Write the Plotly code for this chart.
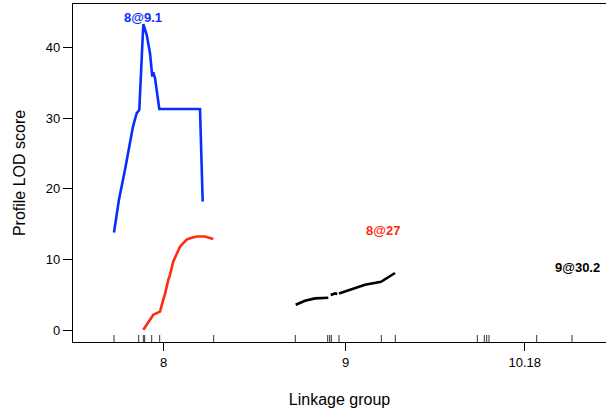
import plotly.graph_objects as go

# Positions along the concatenated linkage-group axis (arbitrary cM-like units)
lg_tick_pos = [90.7, 272.7, 451.7]
lg_tick_labels = ["8", "9", "10.18"]

# Marker positions (rug)
markers = [41, 65.7, 70.3, 71.7, 78.7, 86.7, 140.7,
           222.3, 254.7, 256.7, 258.3, 266, 308.3, 322.3,
           404.3, 411.3, 413.7, 416, 463.7, 499]

# Profile LOD curves
blue_x = [41, 46, 52, 57, 59.7, 61.3, 63.7, 66.3, 70.3, 73.7, 77, 79.3, 80.3, 82, 83.7, 86.3, 127, 129.7]
blue_y = [13.8, 18.5, 22.7, 26.9, 28.6, 29.5, 30.7, 31.2, 43.3, 41.8, 39.2, 35.9, 36.5, 35.7, 33.8, 31.3, 31.3, 18.2]

red_x = [70.3, 73.7, 77, 80.3, 85.3, 87, 90.3, 92, 95.3, 97, 100.3, 103.7, 107, 110.3, 113.7, 117, 123.7, 132, 140.3]
red_y = [0.04, 0.75, 1.46, 2.17, 2.5, 2.6, 4.3, 5.1, 7.1, 7.8, 9.7, 10.9, 11.8, 12.3, 12.8, 13.0, 13.25, 13.25, 12.9]

black_x = [222.7, 232, 242, 255.3, None, 257.7, 262, 264.3, None, 266, 278.7, 292, 308, 313.7, 322]
black_y = [3.58, 4.15, 4.48, 4.57, None, 4.95, 5.18, 5.09, None, 5.18, 5.8, 6.4, 6.83, 7.36, 8.07]

peak_labels = ["8@9.1", "8@27", "9@30.2"]
peak_x = [70, 310, 504]
peak_y = [44.3, 14.05, 8.8]

BLUE = "#0a2dff"
RED = "#ff2a10"
BLACK = "#000000"

Y_MIN, Y_MAX = -1.70, 46.17

fig = go.Figure()

for xs, ys, c in [(blue_x, blue_y, BLUE), (red_x, red_y, RED), (black_x, black_y, BLACK)]:
    fig.add_trace(go.Scatter(x=xs, y=ys, mode="lines", line=dict(color=c, width=2.6),
                             connectgaps=False, showlegend=False, hoverinfo="skip"))

rx, ry = [], []
for m in markers:
    rx += [m, m, None]
    ry += [Y_MIN, Y_MIN + 0.99, None]
fig.add_trace(go.Scatter(x=rx, y=ry, mode="lines", line=dict(color="#333333", width=1),
                         showlegend=False, hoverinfo="skip"))

for t, x, y, c in zip(peak_labels, peak_x, peak_y, [BLUE, RED, BLACK]):
    fig.add_annotation(x=x, y=y, text="<b>%s</b>" % t, showarrow=False,
                       font=dict(color=c, size=13, family="Liberation Sans, Arial, sans-serif"),
                       xanchor="center", yanchor="middle")

fig.update_layout(
    width=606, height=409,
    margin=dict(l=73, r=0, t=4, b=67),
    paper_bgcolor="white", plot_bgcolor="white",
    font=dict(family="Liberation Sans, Arial, sans-serif", size=13, color="black"),
    xaxis=dict(range=[0, 533], tickvals=lg_tick_pos, ticktext=lg_tick_labels, automargin=False,
               showgrid=False, zeroline=False, showline=True, linecolor="black", linewidth=1.3,
               mirror=True, ticks="outside", ticklen=8, tickwidth=1.3, tickcolor="black",
               title=dict(text="Linkage group", standoff=25)),
    yaxis=dict(range=[Y_MIN, Y_MAX], tickvals=[0, 10, 20, 30, 40], automargin=False,
               showgrid=False, zeroline=False, showline=True, linecolor="black", linewidth=1.3,
               ticks="outside", ticklen=9, tickwidth=1.3, tickcolor="black",
               title=dict(text="Profile LOD score", standoff=16)),
)

fig.write_html("out.html", config={"displayModeBar": False},
               post_script="document.body.style.margin='0';document.body.style.overflow='hidden';")
